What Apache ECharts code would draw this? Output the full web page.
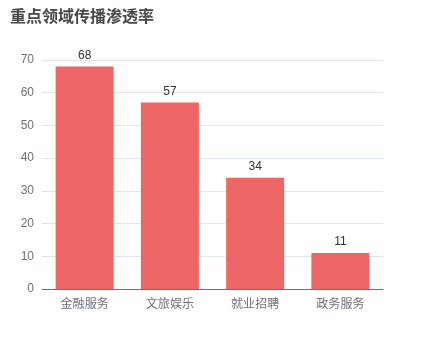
<!DOCTYPE html>
<html><head><meta charset="utf-8">
<script src="https://cdn.jsdelivr.net/npm/echarts@6/dist/echarts.min.js"></script>
<style>html,body{margin:0;padding:0;background:#fff}#c{width:426px;height:360px}</style>
</head><body><div id="c"></div>
<script>
const categories = ['金融服务', '文旅娱乐', '就业招聘', '政务服务'];
const values = [68, 57, 34, 11];
const chart = echarts.init(document.getElementById('c'));
chart.setOption({
  animation: false,
  title: { text: '重点领域传播渗透率', left: 5, top: 3, textStyle: { fontSize: 16, fontWeight: 'bold', color: '#464646', fontFamily: 'Noto Sans CJK SC' } },
  grid: { left: 42, right: 43, top: 60, bottom: 71, containLabel: false },
  xAxis: { type: 'category', data: categories,
    axisLine: { lineStyle: { color: '#6e7079' } },
    axisTick: { lineStyle: { color: '#6e7079' } },
    axisLabel: { color: '#6e7079', fontSize: 12, margin: 8, fontFamily: 'Noto Sans CJK SC' } },
  yAxis: { type: 'value', min: 0, max: 70, interval: 10,
    axisLabel: { color: '#6e7079', fontSize: 12, margin: 8 },
    splitLine: { lineStyle: { color: '#e0e6f1' } } },
  series: [{ type: 'bar', data: values, barWidth: '68%',
    itemStyle: { color: '#ee6666' },
    label: { show: true, position: 'top', color: '#333', fontSize: 12 } }]
});
</script></body></html>
